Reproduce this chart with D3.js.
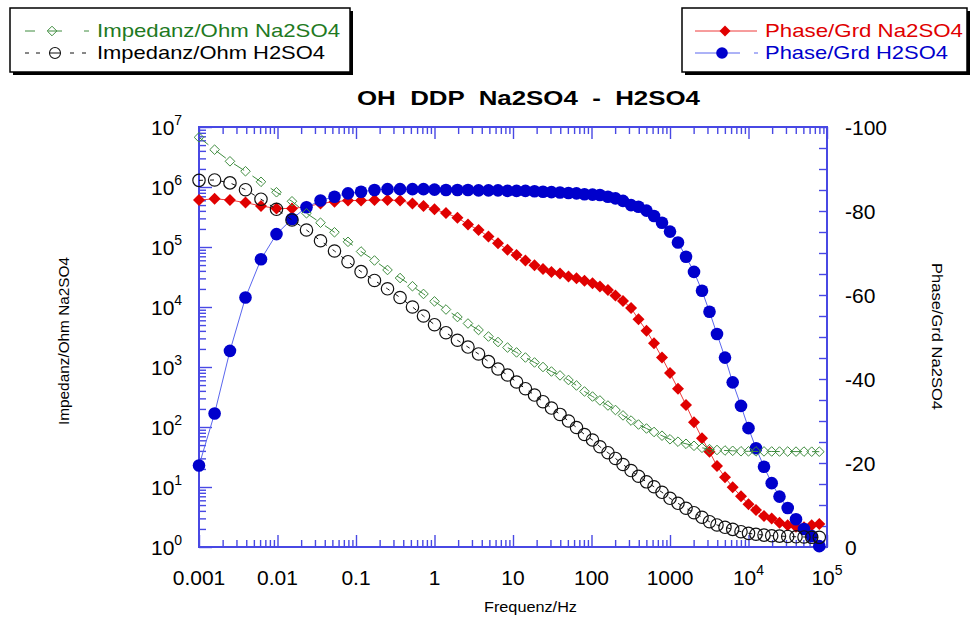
<!DOCTYPE html>
<html>
<head>
<meta charset="utf-8">
<script src="https://cdn.jsdelivr.net/npm/d3@7"></script>
<style>
  body { margin: 0; background: #fff; }
  text { font-family: "Liberation Sans", Arial, Helvetica, sans-serif; white-space: pre; }
</style>
</head>
<body>
<svg id="chart" width="971" height="620"></svg>
<script>
// Measured frequencies (Hz)
const freq = [0.001, 0.00158, 0.00248, 0.00391, 0.00616, 0.00971, 0.0153, 0.0234, 0.0353, 0.0532,
  0.0791, 0.116, 0.172, 0.252, 0.364, 0.524, 0.724, 1.0, 1.40, 1.96,
  2.67, 3.64, 4.87, 6.44, 8.51, 11.1, 14.4, 18.8, 24.1, 30.9,
  39.7, 50.9, 64.4, 81.4, 103, 128, 162, 202, 252, 319,
  397, 502, 626, 791, 1000, 1264, 1599, 2022, 2556, 3186,
  3969, 5019, 6290, 8025, 10000, 12460, 15760, 19750, 24820, 31580,
  40290, 50930, 63860, 79770];

// |Z| in Ohm
const impedanceNa2SO4 = [6.73e6, 4.19e6, 2.68e6, 1.83e6, 1.22e6, 8.18e5, 5.78e5, 3.65e5, 2.54e5, 1.76e5,
  1.22e5, 8.41e4, 5.96e4, 4.14e4, 3.04e4, 2.22e4, 1.65e4, 1.24e4, 9080, 6810,
  5310, 4140, 3220, 2610, 2110, 1750, 1440, 1190, 1000, 841,
  724, 607, 492, 391, 322, 277, 228, 192, 156, 128,
  110, 94.4, 82.6, 71.6, 62.4, 56.9, 52.5, 48.6, 45.0, 42.7,
  41.4, 40.6, 40.1, 39.4, 39.3, 39.2, 39.2, 39.1, 39.0, 39.0,
  38.9, 38.9, 38.8, 38.8];

const impedanceH2SO4 = [1.29e6, 1.31e6, 1.17e6, 9.02e5, 6.26e5, 4.25e5, 2.82e5, 1.92e5, 1.27e5, 8.58e4,
  5.69e4, 3.88e4, 2.77e4, 2.01e4, 1.44e4, 1.0e4, 7080, 5070, 3730, 2790,
  2150, 1650, 1230, 926, 736, 562, 435, 341, 264, 207,
  162, 126, 98.1, 75.0, 60.7, 46.9, 37.3, 29.9, 23.7, 18.8,
  15.1, 12.2, 10.1, 8.16, 6.48, 5.35, 4.42, 3.73, 3.13, 2.64,
  2.33, 2.13, 1.97, 1.80, 1.69, 1.63, 1.58, 1.54, 1.52, 1.50,
  1.48, 1.47, 1.45, 1.45];

// Phase in degrees
const phaseNa2SO4 = [-82.6, -82.9, -82.6, -82.0, -81.2, -80.6, -80.6, -81.0, -81.8, -82.2,
  -82.5, -82.5, -82.6, -82.6, -82.5, -81.8, -81.2, -80.4, -79.5, -78.4,
  -76.8, -75.5, -73.9, -72.3, -70.8, -69.5, -68.2, -67.1, -66.2, -65.5,
  -65.1, -64.4, -64.0, -63.4, -62.8, -62.0, -61.2, -59.9, -58.6, -56.9,
  -54.2, -51.5, -48.5, -45.1, -41.4, -37.7, -33.8, -29.7, -25.9, -22.7,
  -19.3, -16.6, -14.2, -12.1, -10.2, -8.8, -7.4, -6.8, -5.8, -5.2,
  -4.8, -4.7, -5.2, -5.5];

const phaseH2SO4 = [-19.4, -31.8, -46.7, -59.4, -68.5, -74.5, -78.1, -80.9, -82.5, -83.4,
  -84.2, -84.6, -85.0, -85.2, -85.2, -85.2, -85.2, -85.1, -85.0, -85.0,
  -85.0, -84.9, -84.9, -84.9, -84.8, -84.8, -84.8, -84.7, -84.6, -84.5,
  -84.4, -84.3, -84.2, -84.0, -83.9, -83.8, -83.4, -83.0, -82.4, -81.4,
  -81.0, -80.1, -78.8, -77.2, -75.1, -72.5, -69.1, -65.5, -61.0, -56.0,
  -50.7, -45.1, -39.2, -33.6, -28.3, -23.5, -19.1, -15.2, -12.0, -9.3,
  -6.6, -4.3, -2.6, -0.2];

// Tick labels
const xTickValues = [0.001, 0.01, 0.1, 1, 10, 100, 1000, 1e4, 1e5];
const xTickLabels = [["0.001"], ["0.01"], ["0.1"], ["1"], ["10"], ["100"], ["1000"], ["10", "4"], ["10", "5"]];
const zTickExponents = [0, 1, 2, 3, 4, 5, 6, 7];
const phaseTickValues = [0, -20, -40, -60, -80, -100];
const phaseTickLabels = ["0", "-20", "-40", "-60", "-80", "-100"];

const title = "OH  DDP  Na2SO4  -  H2SO4";
const xTitle = "Frequenz/Hz";
const yLeftTitle = "Impedanz/Ohm Na2SO4";
const yRightTitle = "Phase/Grd Na2SO4";
const legendNames = ["Impedanz/Ohm Na2SO4", "Impedanz/Ohm H2SO4", "Phase/Grd Na2SO4", "Phase/Grd H2SO4"];

// ---- layout ----
const plot = { left: 199, right: 827, top: 127, bottom: 547 };
const axisColor = "#4848e4";
const cGreen = "#3f8c3f", cGreenText = "#1f7a1f";
const cRed = "#e00000", cRedLine = "#ee3a3a";
const cBlue = "#0000cc", cBlueLine = "#5a66ee";

const svg = d3.select("#chart");

const x = d3.scaleLog().domain([1e-3, 1e5]).range([plot.left, plot.right]);
const yZ = d3.scaleLog().domain([1, 1e7]).range([plot.bottom, plot.top]);
const yP = d3.scaleLinear().domain([0, -100]).range([plot.bottom, plot.top]);

// minor log ticks
const xMinor = [];
for (let k = -3; k < 5; k++) for (let m = 2; m <= 9; m++) xMinor.push(m * Math.pow(10, k));
const zMinor = [];
for (let k = 0; k < 7; k++) for (let m = 2; m <= 9; m++) zMinor.push(m * Math.pow(10, k));
const pMinor = d3.range(0, -101, -5);

function tickOnly(g) {
  g.select(".domain").remove();
  g.selectAll("text").remove();
  g.selectAll("line").attr("stroke", axisColor).attr("stroke-width", 1.4);
}

const axes = svg.append("g");
axes.append("g").attr("transform", `translate(0,${plot.bottom})`)
  .call(d3.axisBottom(x).tickValues(xMinor).tickSize(-7).tickFormat("")).call(tickOnly);
axes.append("g").attr("transform", `translate(0,${plot.bottom})`)
  .call(d3.axisBottom(x).tickValues(xTickValues).tickSize(-12).tickFormat("")).call(tickOnly);
axes.append("g").attr("transform", `translate(0,${plot.top})`)
  .call(d3.axisTop(x).tickValues(xMinor).tickSize(-7).tickFormat("")).call(tickOnly);
axes.append("g").attr("transform", `translate(0,${plot.top})`)
  .call(d3.axisTop(x).tickValues(xTickValues).tickSize(-12).tickFormat("")).call(tickOnly);
axes.append("g").attr("transform", `translate(${plot.left},0)`)
  .call(d3.axisLeft(yZ).tickValues(zMinor).tickSize(-7).tickFormat("")).call(tickOnly);
axes.append("g").attr("transform", `translate(${plot.left},0)`)
  .call(d3.axisLeft(yZ).tickValues(zTickExponents.map(e => Math.pow(10, e))).tickSize(-13).tickFormat("")).call(tickOnly);
axes.append("g").attr("transform", `translate(${plot.right},0)`)
  .call(d3.axisRight(yP).tickValues(pMinor).tickSize(-8).tickFormat("")).call(tickOnly);

axes.append("rect")
  .attr("x", plot.left).attr("y", plot.top)
  .attr("width", plot.right - plot.left).attr("height", plot.bottom - plot.top)
  .attr("fill", "none").attr("stroke", axisColor).attr("stroke-width", 2);

// ---- tick labels ----
const labels = svg.append("g").attr("font-size", 21).attr("fill", "#000");
xTickValues.forEach((v, i) => {
  const t = labels.append("text").attr("x", x(v)).attr("y", 585).attr("text-anchor", "middle");
  t.append("tspan").text(xTickLabels[i][0]);
  if (xTickLabels[i][1]) t.append("tspan").attr("dy", -10).attr("font-size", 14).text(xTickLabels[i][1]);
});
zTickExponents.forEach(e => {
  const t = labels.append("text").attr("x", 151).attr("y", yZ(Math.pow(10, e)) + 8);
  t.append("tspan").text("10");
  t.append("tspan").attr("dy", -10).attr("font-size", 14).text(String(e));
});
phaseTickValues.forEach((v, i) => {
  labels.append("text").attr("x", 845).attr("y", yP(v) + 7.5).text(phaseTickLabels[i]);
});

// ---- titles ----
svg.append("text").attr("x", 357).attr("y", 105).attr("font-size", 20).attr("font-weight", "bold")
  .attr("textLength", 343).attr("lengthAdjust", "spacingAndGlyphs").text(title);
svg.append("text").attr("x", 484).attr("y", 612).attr("font-size", 14)
  .attr("textLength", 93).attr("lengthAdjust", "spacingAndGlyphs").text(xTitle);
svg.append("text").attr("transform", "translate(69,425) rotate(-90)").attr("font-size", 14)
  .attr("textLength", 168).attr("lengthAdjust", "spacingAndGlyphs").text(yLeftTitle);
svg.append("text").attr("transform", "translate(932,263) rotate(90)").attr("font-size", 14)
  .attr("textLength", 147).attr("lengthAdjust", "spacingAndGlyphs").text(yRightTitle);

// ---- series ----
const idx = d3.range(freq.length);
const diamond = r => `M0,${-r}L${r},0L0,${r}L${-r},0Z`;

function drawLine(values, yScale, color, dash) {
  svg.append("path")
    .attr("d", d3.line().x(i => x(freq[i])).y(i => yScale(values[i]))(idx))
    .attr("fill", "none").attr("stroke", color).attr("stroke-width", 1)
    .attr("stroke-dasharray", dash || null);
}

const gRed = svg.append("g"), gBlue = svg.append("g"), gGreen = svg.append("g"), gBlack = svg.append("g");

drawLine(phaseNa2SO4, yP, cRedLine);
gRed.raise();
gRed.selectAll("path").data(idx).join("path")
  .attr("transform", i => `translate(${x(freq[i])},${yP(phaseNa2SO4[i])})`)
  .attr("d", diamond(6)).attr("fill", cRed);

drawLine(phaseH2SO4, yP, cBlueLine);
gBlue.raise();
gBlue.selectAll("circle").data(idx).join("circle")
  .attr("cx", i => x(freq[i])).attr("cy", i => yP(phaseH2SO4[i])).attr("r", 6.3).attr("fill", cBlue);

drawLine(impedanceNa2SO4, yZ, cGreen, "12,10");
gGreen.raise();
gGreen.selectAll("path").data(idx).join("path")
  .attr("transform", i => `translate(${x(freq[i])},${yZ(impedanceNa2SO4[i])})`)
  .attr("d", diamond(4.8)).attr("fill", "none").attr("stroke", cGreen).attr("stroke-width", 1);

drawLine(impedanceH2SO4, yZ, "#111", "4,7");
gBlack.raise();
gBlack.selectAll("circle").data(idx).join("circle")
  .attr("cx", i => x(freq[i])).attr("cy", i => yZ(impedanceH2SO4[i])).attr("r", 6.2)
  .attr("fill", "none").attr("stroke", "#111").attr("stroke-width", 1.2);

// ---- legends ----
function legendBox(x0, y0, w, h) {
  const g = svg.append("g");
  g.append("rect").attr("x", x0 + 3).attr("y", y0 + 3).attr("width", w).attr("height", h).attr("fill", "#000");
  g.append("rect").attr("x", x0).attr("y", y0).attr("width", w).attr("height", h)
    .attr("fill", "#fff").attr("stroke", "#000").attr("stroke-width", 1.5);
  return g;
}

// sample line built from short segments [x1, x2]
function legendSegments(g, segs, y, color) {
  segs.forEach(([a, b]) => g.append("line").attr("x1", a).attr("x2", b).attr("y1", y).attr("y2", y)
    .attr("stroke", color).attr("stroke-width", 1));
}

const lg1 = legendBox(10, 8, 340, 64);
legendSegments(lg1, [[25, 35], [48, 62], [84, 89]], 31, cGreen);
lg1.append("path").attr("transform", "translate(52,31)").attr("d", diamond(4.8))
  .attr("fill", "none").attr("stroke", cGreen);
lg1.append("text").attr("x", 97).attr("y", 37).attr("font-size", 19).attr("fill", cGreenText)
  .attr("textLength", 243).attr("lengthAdjust", "spacingAndGlyphs").text(legendNames[0]);
legendSegments(lg1, [[25, 29], [36, 40], [50, 60], [70, 74], [82, 86]], 53, "#111");
lg1.append("circle").attr("cx", 55).attr("cy", 53).attr("r", 5.5)
  .attr("fill", "none").attr("stroke", "#111").attr("stroke-width", 1.1);
lg1.append("text").attr("x", 97).attr("y", 59).attr("font-size", 19).attr("fill", "#000")
  .attr("textLength", 228).attr("lengthAdjust", "spacingAndGlyphs").text(legendNames[1]);

const lg2 = legendBox(682, 8, 285, 64);
legendSegments(lg2, [[695, 757]], 31, cRedLine);
lg2.append("path").attr("transform", "translate(725,31)").attr("d", diamond(5.5)).attr("fill", cRed);
lg2.append("text").attr("x", 765).attr("y", 37).attr("font-size", 19).attr("fill", cRed)
  .attr("textLength", 198).attr("lengthAdjust", "spacingAndGlyphs").text(legendNames[2]);
legendSegments(lg2, [[695, 740], [754, 758]], 53, cBlueLine);
lg2.append("circle").attr("cx", 722).attr("cy", 53).attr("r", 5.8).attr("fill", cBlue);
lg2.append("text").attr("x", 765).attr("y", 59).attr("font-size", 19).attr("fill", cBlue)
  .attr("textLength", 183).attr("lengthAdjust", "spacingAndGlyphs").text(legendNames[3]);
</script>
</body>
</html>
